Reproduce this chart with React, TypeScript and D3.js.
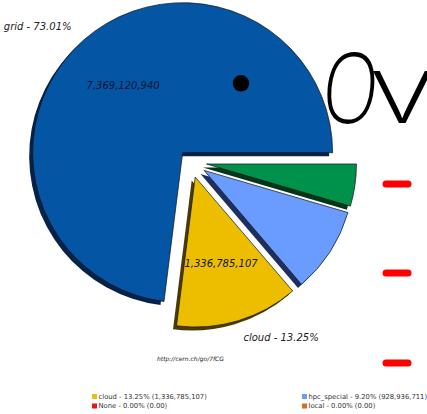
import React from 'react';
import * as d3 from 'd3';

// ---- data ----
const categories = ['grid', 'cloud', 'hpc_special', 'other'];
const values = [7369120940, 1336785107, 928936711, 457807242];
const sliceColors = ['#0455A4', '#EDBE00', '#6A9BFF', '#00914A'];
const shadowColors = ['#05224A', '#4A3B05', '#1C2F5E', '#02361B'];
const explodes = [12, 16, 16, 16];
const showLabel = [true, true, false, false];

const legendNames = ['cloud', 'hpc_special', 'None', 'local'];
const legendValues = [1336785107, 928936711, 0, 0];
const legendColors = ['#E8BE10', '#6A9BFF', '#E3191C', '#C8742E'];

const sourceNote = 'http://cern.ch/go/7fCG';
const slideTitleFirst = 'O';
const slideTitleSecond = 'v';

export default function App() {
  const W = 427;
  const H = 414;
  const R = 150;
  const cx = 190.6;
  const cy = 161.7;
  const shadowDx = -3.5;
  const shadowDy = 3.5;

  const total = d3.sum(values);
  const fmt = d3.format(',');
  const pct = (v: number) => ((v / total) * 100).toFixed(2);

  const pie = d3
    .pie<number>()
    .sort(null)
    .startAngle(Math.PI / 2)
    .endAngle(Math.PI / 2 - 2 * Math.PI);
  const arcs = pie(values);
  const arc = d3.arc<d3.PieArcDatum<number>>().innerRadius(0).outerRadius(R);

  const slices = arcs.map((a, i) => {
    const mid = (a.startAngle + a.endAngle) / 2;
    const dx = Math.sin(mid);
    const dy = -Math.cos(mid);
    return { a, i, dx, dy, ox: cx + dx * explodes[i], oy: cy + dy * explodes[i] };
  });

  const legendCols = [92, 302];
  const legendRows = [396.5, 406];

  return (
    <svg
      width={W}
      height={H}
      style={{ position: 'absolute', left: 0, top: 0, background: '#fff' }}
      fontFamily="'DejaVu Sans', sans-serif"
    >
      <rect x={0} y={0} width={W} height={H} fill="#fff" />
      {slices.map((s) => (
        <g key={categories[s.i]}>
          <path
            d={arc(s.a) || ''}
            transform={`translate(${s.ox + shadowDx},${s.oy + shadowDy})`}
            fill={shadowColors[s.i]}
          />
          <path
            d={arc(s.a) || ''}
            transform={`translate(${s.ox},${s.oy})`}
            fill={sliceColors[s.i]}
            stroke="#111"
            strokeWidth={0.7}
          />
        </g>
      ))}
      {slices
        .filter((s) => showLabel[s.i])
        .map((s) => (
          <g key={'lab' + s.i} fontStyle="italic" fontSize={10}>
            <text
              x={s.ox + s.dx * R * 1.12}
              y={s.oy + s.dy * R * 1.12}
              textAnchor={s.dx < 0 ? 'end' : 'start'}
              dominantBaseline="central"
              fill="#222"
            >
              {`${categories[s.i]} - ${pct(values[s.i])}%`}
            </text>
            <text
              x={s.ox + s.dx * R * 0.6}
              y={s.oy + s.dy * R * 0.6}
              textAnchor="middle"
              dominantBaseline="central"
              fill="#0c1430"
            >
              {fmt(values[s.i])}
            </text>
          </g>
        ))}
      <text x={157} y={361} fontSize={6} fontStyle="italic" fill="#222">
        {sourceNote}
      </text>
      {legendNames.map((n, i) => {
        const col = i % 2;
        const row = Math.floor(i / 2);
        const lx = legendCols[col];
        const ly = legendRows[row];
        const v = legendValues[i];
        return (
          <g key={n}>
            <rect x={lx} y={ly - 2.5} width={5} height={5} fill={legendColors[i]} />
            <text x={lx + 6.5} y={ly} fontSize={6.8} dominantBaseline="central" fill="#333">
              {`${n} - ${pct(v)}% (${v === 0 ? '0.00' : fmt(v)})`}
            </text>
          </g>
        );
      })}
      {/* slide overlay */}
      <circle cx={241} cy={83.3} r={8.3} fill="#000" />
      <g fontFamily="'Open Sans', sans-serif" fontWeight={300} fontSize={98} fill="#000">
        <text transform="translate(320,123) scale(0.74,1) skewX(-7)" x={0} y={0}>
          {slideTitleFirst}
        </text>
        <text transform="translate(373,123) scale(1.3,1)" x={0} y={0}>
          {slideTitleSecond}
        </text>
      </g>
      {[184, 273, 363].map((y) => (
        <line key={y} x1={386} x2={408} y1={y} y2={y} stroke="#FF0000" strokeWidth={7} strokeLinecap="round" />
      ))}
    </svg>
  );
}
